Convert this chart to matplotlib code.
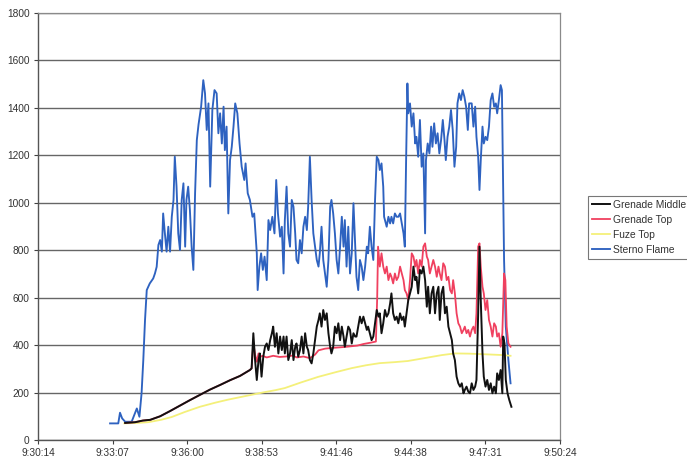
import matplotlib
matplotlib.use("Agg")
import matplotlib.pyplot as plt

plt.rcParams['font.family'] = ['Liberation Sans', 'DejaVu Sans']

# Time axis: seconds after 9:30:14 (Excel axis 0.396 .. 0.410 days, major unit 0.002 day)
x_tick_labels = ["9:30:14", "9:33:07", "9:36:00", "9:38:53", "9:41:46", "9:44:38", "9:47:31", "9:50:24"]
x_tick_seconds = [0, 172.8, 345.6, 518.4, 691.2, 864.0, 1036.8, 1209.6]
y_ticks = [0, 200, 400, 600, 800, 1000, 1200, 1400, 1600, 1800]

series_names = ["Grenade Middle", "Grenade Top", "Fuze Top", "Sterno Flame"]

ramp_t = [202, 225, 243, 260, 283, 306, 329, 352, 375, 398, 422, 445, 468, 491, 495]
ramp_v = [72, 75, 82, 85, 100, 122, 145, 168, 190, 212, 232, 252, 270, 295, 302]

middle_t = ramp_t + [499, 503, 507, 511, 514, 518, 522, 526, 530, 534, 538, 542, 545, 549, 553, 557, 561, 565, 569, 572,
            576, 580, 584, 588, 592, 596, 599, 603, 607, 611, 615, 619, 623, 626, 630, 634, 638, 642, 646, 650,
            653, 657, 661, 665, 669, 673, 677, 680, 684, 688, 692, 696, 700, 704, 708, 711, 715, 719, 723, 727,
            731, 735, 738, 742, 746, 750, 754, 758, 762, 765, 769, 773, 777, 781, 785, 789, 792, 796, 800, 804,
            808, 812, 816, 819, 823, 827, 831, 835, 839, 843, 847, 850, 854, 858, 862, 866, 870, 874, 877, 881,
            885, 889, 893, 897, 901, 904, 908, 912, 916, 920, 924, 928, 931, 935, 939, 943, 947, 951, 955, 959,
            962, 966, 970, 974, 978, 982, 986, 989, 993, 997, 1001, 1005, 1009, 1013, 1016, 1020, 1023, 1026,
            1030, 1033, 1037, 1041, 1045, 1049, 1053, 1057, 1061, 1064, 1068, 1072, 1076, 1078, 1081, 1084,
            1088, 1092, 1097]
middle_v = ramp_v + [450, 337, 253, 337, 365, 267, 351, 393, 407, 379, 421, 450, 478, 393, 450, 365, 436, 379, 436, 365,
            436, 337, 365, 421, 337, 393, 407, 351, 379, 436, 365, 450, 393, 379, 337, 323, 365, 421, 478, 506,
            534, 478, 548, 506, 534, 450, 393, 365, 393, 478, 450, 492, 421, 478, 436, 393, 436, 478, 464, 407,
            450, 436, 436, 478, 520, 492, 520, 492, 464, 478, 450, 421, 436, 492, 548, 520, 534, 450, 492, 548,
            520, 534, 576, 618, 534, 506, 520, 492, 534, 506, 520, 478, 534, 590, 618, 646, 731, 674, 688, 618,
            717, 702, 731, 674, 562, 646, 534, 618, 646, 534, 618, 646, 506, 618, 646, 534, 562, 478, 450, 421,
            365, 337, 267, 239, 225, 239, 197, 211, 225, 204, 197, 239, 211, 225, 253, 534, 815, 590,
            365, 267, 225, 253, 211, 239, 197, 225, 197, 281, 253, 295, 197, 436, 407, 253,
            197, 169, 140]

top_t = ramp_t + [499, 503, 507, 511, 515, 520, 530, 545, 560, 575, 590, 600, 615, 630, 642, 650, 665, 680, 695, 710,
         725, 740, 755, 770, 783, 786, 788, 792, 796, 800, 804, 808, 812, 816, 819, 823, 827, 831, 835, 839,
         843, 847, 850, 854, 858, 862, 866, 870, 874, 877, 881, 885, 889, 893, 897, 901, 904, 908, 912, 916,
         920, 924, 928, 931, 935, 939, 943, 947, 951, 955, 959, 962, 966, 970, 974, 978, 982, 986, 989, 993,
         997, 1001, 1005, 1009, 1013, 1016, 1020, 1023, 1026, 1030, 1033, 1037, 1041, 1045, 1049, 1053, 1057,
         1061, 1064, 1068, 1072, 1076, 1080, 1083, 1086, 1090, 1095]
top_v = ramp_v + [410, 360, 330, 365, 350, 355, 348, 355, 350, 352, 356, 348, 352, 345, 360, 378, 385, 388, 390, 392,
         395, 398, 405, 410, 415, 600, 815, 731, 787, 731, 702, 731, 674, 702, 688, 660, 702, 674, 688, 731,
         702, 674, 632, 618, 590, 674, 787, 773, 731, 759, 702, 759, 731, 815, 829, 773, 759, 702, 731, 759,
         731, 688, 731, 702, 674, 745, 731, 674, 688, 632, 618, 674, 618, 534, 492, 478, 450, 464, 478, 450,
         464, 436, 464, 478, 450, 534, 815, 829, 731, 646, 618, 548, 590, 506, 478, 436, 492,
         478, 436, 450, 393, 450, 702, 674, 478, 407, 393]

fuze_t = [200, 230, 255, 285, 310, 340, 375, 410, 440, 480, 520, 550, 572, 610, 649, 690, 727, 760, 792, 825,
          857, 895, 936, 966, 1000, 1040, 1077, 1095]
fuze_v = [70, 72, 75, 85, 97, 118, 140, 157, 170, 185, 200, 210, 219, 243, 266, 286, 303, 315, 324, 328,
          333, 345, 358, 365, 364, 361, 358, 355]

sterno_t = [167, 186, 190, 195, 202, 217, 229, 235, 240, 244, 248, 252, 259, 267, 271, 275, 279, 283, 287, 290,
            294, 298, 302, 306, 310, 314, 317, 321, 325, 329, 333, 337, 341, 344, 348, 352, 356, 360, 364, 368,
            372, 378, 383, 387, 391, 395, 399, 404, 409, 414, 418, 422, 426, 430, 433, 437, 441, 445, 449, 453,
            457, 462, 467, 472, 478, 481, 486, 491, 497, 501, 507, 509, 513, 517, 521, 525, 530, 534, 538, 543,
            548, 552, 556, 561, 565, 569, 572, 576, 580, 584, 588, 592, 596, 599, 603, 607, 611, 615, 619, 623,
            626, 630, 634, 638, 642, 646, 650, 653, 657, 661, 665, 669, 673, 677, 680, 684, 688, 692, 696, 700,
            704, 708, 711, 715, 719, 723, 727, 731, 735, 738, 742, 746, 750, 754, 758, 762, 765, 769, 773, 777,
            781, 785, 789, 792, 796, 800, 802, 808, 812, 816, 819, 823, 827, 831, 835, 839, 843, 847, 850, 853,
            856, 858, 862, 866, 870, 874, 877, 881, 885, 889, 893, 897, 899, 903, 907, 911, 914, 918, 922, 926,
            930, 934, 938, 942, 945, 949, 953, 957, 961, 965, 969, 972, 976, 980, 984, 988, 992, 996, 999, 1005,
            1009, 1013, 1016, 1020, 1023, 1026, 1030, 1033, 1037, 1041, 1045, 1049, 1053, 1057, 1061, 1064, 1068,
            1072, 1075, 1077, 1080, 1084, 1090, 1095]
sterno_v = [70, 70, 115, 91, 77, 77, 133, 98, 197, 337, 506, 632, 660, 681, 702, 730, 822, 843, 794, 955,
            871, 794, 899, 794, 941, 1012, 1194, 1068, 871, 801, 1012, 1082, 815, 1012, 1068, 969, 815, 717, 1040, 1264,
            1330, 1405, 1517, 1461, 1307, 1419, 1068, 1391, 1475, 1461, 1293, 1377, 1250, 1405, 1222, 1321, 955, 1180, 1236, 1321,
            1419, 1377, 1250, 1152, 1096, 1166, 1040, 1012, 941, 955, 787, 632, 731, 787, 717, 773, 674, 927, 885, 941,
            871, 1096, 955, 857, 899, 702, 927, 1068, 871, 815, 1012, 983, 871, 759, 745, 843, 787, 899, 941, 885,
            983, 1194, 1012, 871, 815, 759, 731, 787, 899, 759, 702, 646, 759, 983, 1012, 955, 871, 759, 702, 815,
            941, 815, 927, 731, 899, 702, 787, 998, 815, 688, 632, 759, 731, 674, 731, 815, 787, 899, 815, 759,
            1012, 1194, 1180, 1138, 1166, 1068, 941, 899, 941, 913, 941, 913, 955, 941, 941, 955, 913, 871, 815, 1180,
            1503, 1377, 1419, 1321, 1377, 1250, 1278, 1194, 1349, 1152, 1208, 871, 1180, 1250, 1208, 1321, 1236, 1335, 1250, 1293,
            1208, 1264, 1349, 1264, 1180, 1278, 1321, 1391, 1307, 1152, 1236, 1419, 1461, 1433, 1475, 1447, 1405, 1307, 1419, 1419,
            1321, 1405, 1278, 1194, 1054, 1180, 1321, 1250, 1278, 1264, 1321, 1433, 1461, 1405, 1419, 1377, 1433,
            1496, 1475, 1180, 759, 478, 337, 239]

colors = {"Grenade Middle": "#111111", "Grenade Top": "#f0405f",
          "Fuze Top": "#f4f07a", "Sterno Flame": "#2e62c0"}

fig = plt.figure(figsize=(6.87, 4.63), dpi=100)
ax = fig.add_axes([38 / 687, 23 / 463, 522 / 687, 427 / 463])

l_mid, = ax.plot(middle_t, middle_v, color=colors["Grenade Middle"], lw=1.4, zorder=5)
l_top, = ax.plot(top_t, top_v, color=colors["Grenade Top"], lw=1.3, zorder=4)
l_fuze, = ax.plot(fuze_t, fuze_v, color=colors["Fuze Top"], lw=1.3, zorder=3)
l_ster, = ax.plot(sterno_t, sterno_v, color=colors["Sterno Flame"], lw=1.35, zorder=2)

ax.set_xlim(x_tick_seconds[0], x_tick_seconds[-1])
ax.set_ylim(0, 1800)
ax.set_xticks(x_tick_seconds)
ax.set_xticklabels(x_tick_labels)
ax.set_yticks(y_ticks)
ax.set_yticklabels([str(v) for v in y_ticks])
ax.tick_params(axis='both', labelsize=7.3, length=3, width=0.8, color='#404040', direction='out', pad=3,
               labelcolor='#333333')
ax.yaxis.grid(True, color='#666666', lw=1.0)
ax.set_axisbelow(True)
for side in ['left', 'bottom']:
    ax.spines[side].set_color('#555555')
    ax.spines[side].set_linewidth(1.0)
for side in ['top', 'right']:
    ax.spines[side].set_color('#8a8a8a')
    ax.spines[side].set_linewidth(0.9)

leg = fig.legend([l_mid, l_top, l_fuze, l_ster], series_names, loc='upper left',
                 bbox_to_anchor=(588 / 687, 1 - 196 / 463), fontsize=7.4, frameon=True, fancybox=False,
                 handlelength=1.75, handletextpad=0.35, borderpad=0.35, labelspacing=0.5, borderaxespad=0)
leg.get_frame().set_edgecolor('#555555')
leg.get_frame().set_linewidth(0.8)
for text in leg.get_texts():
    text.set_color('#333333')

fig.savefig("out.png", dpi=100)
